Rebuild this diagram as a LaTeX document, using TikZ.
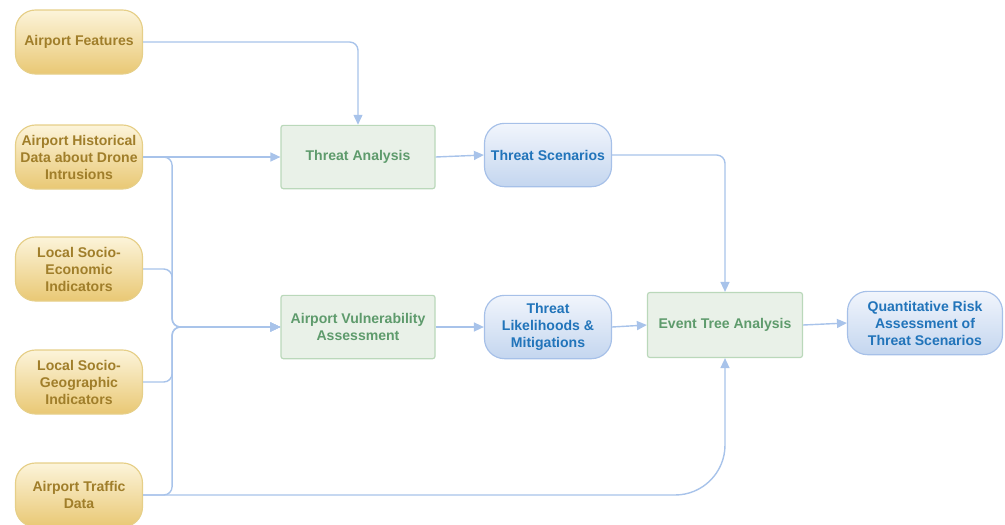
\documentclass[tikz,border=0pt]{standalone}
\usepackage{fontspec}
\setmainfont{Liberation Sans}
\usetikzlibrary{positioning,arrows.meta}

\definecolor{goldtext}{HTML}{A07E2A}
\definecolor{goldline}{HTML}{E6CF88}
\definecolor{goldtop}{HTML}{FCF4DA}
\definecolor{goldbot}{HTML}{E9C874}
\definecolor{bluetext}{HTML}{2174BA}
\definecolor{blueline}{HTML}{A6C0E8}
\definecolor{bluetop}{HTML}{F1F5FC}
\definecolor{bluebot}{HTML}{C4D6EF}
\definecolor{greentext}{HTML}{5E9B6C}
\definecolor{greenline}{HTML}{BAD8BA}
\definecolor{greenfill}{HTML}{E9F1E8}
\definecolor{flowblue}{HTML}{A8C3EA}

\begin{document}
\begin{tikzpicture}[x=0.03cm,y=-0.03cm,
    font=\fontsize{12}{14.5}\selectfont\bfseries,
    >={Triangle[length=3mm,width=2.7mm]},
    box/.style={align=center,line width=1pt,inner sep=2pt},
    source/.style={box,draw=goldline,top color=goldtop,bottom color=goldbot,
      text=goldtext,rounded corners=0.6cm,minimum width=3.81cm,
      minimum height=1.92cm},
    result/.style={box,draw=blueline,top color=bluetop,bottom color=bluebot,
      text=bluetext,rounded corners=0.6cm,minimum width=3.81cm,
      minimum height=1.9cm},
    analysis/.style={box,draw=greenline,fill=greenfill,text=greentext,
      rounded corners=2pt,minimum width=4.62cm,minimum height=1.9cm},
    flow/.style={->,line width=1.2pt,draw=flowblue,rounded corners=0.25cm}
]
\useasboundingbox (0,0) rectangle (1005,524);

% input data
\node[source] (features) at (79,42)  {Airport Features};
\node[source] (history)  at (79,157) {Airport Historical\\Data about Drone\\Intrusions};
\node[source] (economic) at (79,269) {Local Socio-\\Economic\\Indicators};
\node[source] (geo)      at (79,382) {Local Socio-\\Geographic\\Indicators};
\node[source] (traffic)  at (79,495) {Airport Traffic\\Data};

% analysis steps and their outputs
\node[analysis] (threat)    at (358,157) {Threat Analysis};
\node[analysis] (vuln)      at (358,327) {Airport Vulnerability\\Assessment};
\node[result]   (scenarios) at (548,155) {Threat Scenarios};
\node[result]   (likely)    at (548,327) {Threat\\Likelihoods \&\\Mitigations};
\node[analysis,minimum width=4.65cm,minimum height=1.95cm] (eventtree) at (725,325)
  {Event Tree Analysis};
\node[result,minimum width=4.65cm] (risk) at (925,323)
  {Quantitative Risk\\Assessment of\\Threat Scenarios};

\draw[flow] (features.east) -| (threat.north);
\draw[flow] (history.east) -- (threat.west);

% inputs merging into the vulnerability assessment
\draw[flow] (history.east)  -- ++(29,0) |- (vuln.west);
\draw[flow] (economic.east) -- ++(29,0) |- (vuln.west);
\draw[flow] (geo.east)      -- ++(29,0) |- (vuln.west);
\draw[flow] (traffic.east)  -- ++(29,0) |- (vuln.west);

\draw[flow] (threat.east) -- (scenarios.west);
\draw[flow] (vuln.east) -- (likely.west);
\draw[flow] (likely.east) -- (eventtree.west);
\draw[flow] (scenarios.east) -| (eventtree.north);
\draw[flow,rounded corners=1.5cm] (traffic.east) -| (eventtree.south);
\draw[flow] (eventtree.east) -- (risk.west);
\end{tikzpicture}
\end{document}
